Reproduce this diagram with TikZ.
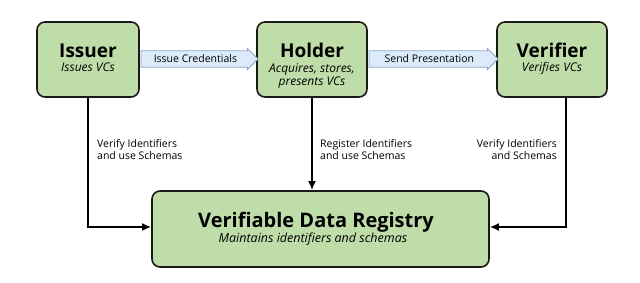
\documentclass[tikz,border=0pt]{standalone}
\usepackage{fontspec}
\setmainfont{Open Sans}
\usetikzlibrary{shapes.arrows,arrows.meta}
\definecolor{boxgreen}{HTML}{BFDDA8}
\definecolor{boxline}{HTML}{1A1A1A}
\definecolor{arrfill}{HTML}{DCEBFA}
\definecolor{arrline}{HTML}{8EA6C4}
\begin{document}
\begin{tikzpicture}[x=1pt,y=-1pt,
  actor/.style={draw=boxline,line width=1.6pt,fill=boxgreen,rounded corners=8pt,
    minimum height=75pt,inner sep=0pt},
  title/.style={font=\fontsize{19}{20}\selectfont\bfseries,anchor=base,inner sep=0pt},
  sub/.style={font=\fontsize{12}{13}\selectfont\itshape,anchor=base,inner sep=0pt,align=center},
  flow/.style={single arrow,draw=arrline,fill=arrfill,line width=0.8pt,
    minimum width=21pt,single arrow head extend=1.5pt,single arrow head indent=0pt,
    inner sep=1pt,font=\fontsize{10.5}{12}\selectfont},
  link/.style={line width=2pt,-{Latex[length=9pt,width=8pt]}},
  lbl/.style={font=\fontsize{10.5}{12.5}\selectfont,inner sep=0pt}]
\useasboundingbox (0,0) rectangle (640,283);
\node[actor,minimum width=102pt] (issuer) at (88,59.5) {};
\node[actor,minimum width=110pt] (holder) at (312,59.5) {};
\node[actor,minimum width=110pt] (verifier) at (552,59.5) {};
\node[actor,minimum width=337pt,minimum height=76pt] (registry) at (320.5,229) {};
\node[title] (t1) at (88,58) {Issuer};
\node[sub] (s1) at (88,71.5) {Issues VCs};
\node[title] (t2) at (312,58) {Holder};
\node[sub] (s2a) at (312,73) {Acquires, stores,};
\node[sub] (s2b) at (312,85.5) {presents VCs};
\node[title] (t3) at (552,58) {Verifier};
\node[sub] (s3) at (552,71.5) {Verifies VCs};
\node[title,font=\fontsize{20}{21}\selectfont\bfseries] (t4) at (316,228) {Verifiable Data Registry};
\node[sub,font=\fontsize{12.5}{13}\selectfont\itshape] (s4) at (313,242.5) {Maintains identifiers and schemas};
\node[flow,minimum height=117pt,anchor=west] (a1) at ([xshift=0.8pt]issuer.east |- 0,59) {Issue Credentials\hspace{10pt}};
\node[flow,minimum height=129pt,anchor=west] (a2) at ([xshift=0.8pt]holder.east |- 0,59) {Send Presentation\hspace{10pt}};
\draw[link] (issuer.south) |- ([yshift=2pt]registry.west);
\draw[link] (holder.south) -- (registry.north -| holder.south);
\draw[link] ([xshift=14pt]verifier.south) |- ([yshift=2pt]registry.east);
\node[lbl,align=left,anchor=north west] (l1) at (97,139) {Verify Identifiers\\and use Schemas};
\node[lbl,align=left,anchor=north west] (l2) at (320,139) {Register Identifiers\\and use Schemas};
\node[lbl,align=right,anchor=north east] (l3) at (557,139) {Verify Identifiers\\and Schemas};
\end{tikzpicture}
\end{document}
